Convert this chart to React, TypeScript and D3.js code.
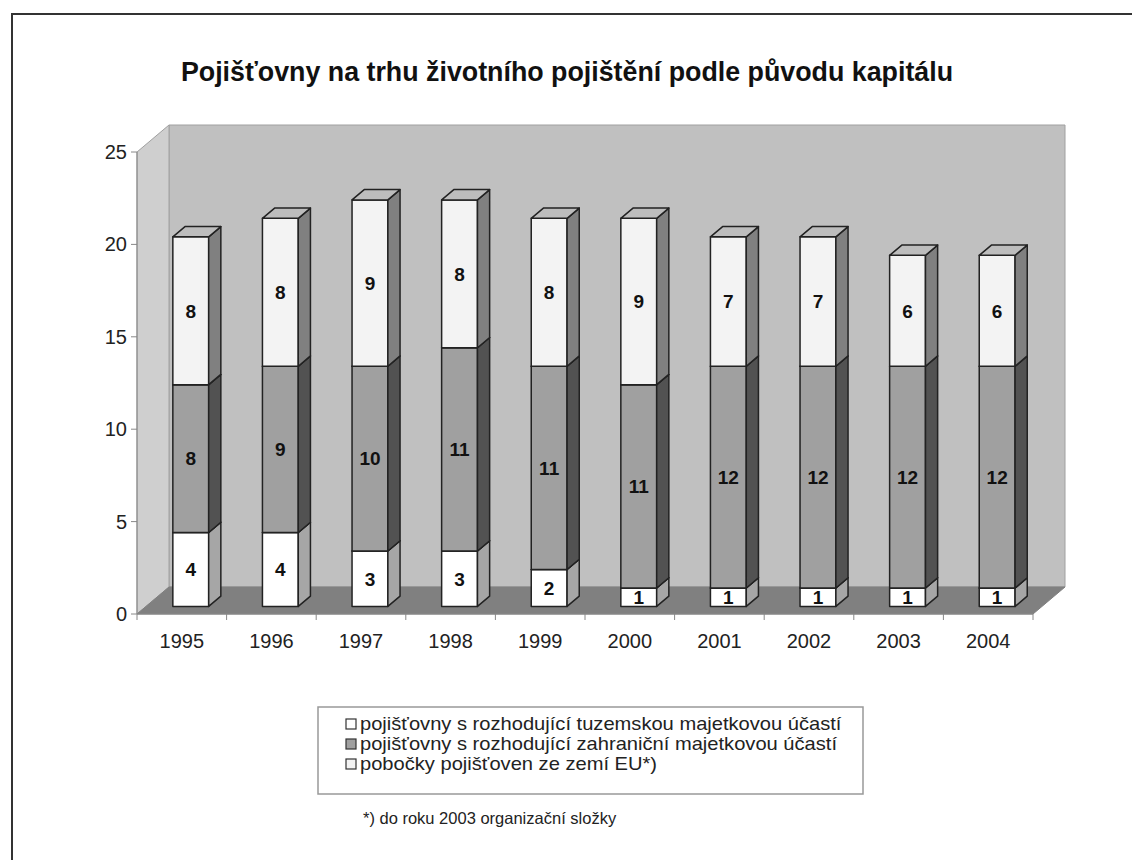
import React from 'react'
import * as d3 from 'd3'

const years = ['1995', '1996', '1997', '1998', '1999', '2000', '2001', '2002', '2003', '2004']
const domestic = [4, 4, 3, 3, 2, 1, 1, 1, 1, 1]
const foreign = [8, 9, 10, 11, 11, 11, 12, 12, 12, 12]
const euBranches = [8, 8, 9, 8, 8, 9, 7, 7, 6, 6]
const yTicks = [0, 5, 10, 15, 20, 25]
const seriesNames = [
  'pojišťovny s rozhodující tuzemskou majetkovou účastí',
  'pojišťovny s rozhodující zahraniční majetkovou účastí',
  'pobočky pojišťoven ze zemí EU*)',
]

const WIDTH = 1132
const HEIGHT = 860
const FONT = 'Arial, "Liberation Sans", sans-serif'

// plot box (front plane) and depth of the 3d floor
const left = 137
const right = 1033
const bottom = 614
const top = 152
const DX = 32
const DY = 27
// bar sits between these depth fractions
const z0 = 0.28
const z1 = 0.66

// front, side, top colours per series
const styles = [
  { front: '#ffffff', side: '#a6a6a6', cap: '#d2d2d2' },
  { front: '#a0a0a0', side: '#525252', cap: '#7a7a7a' },
  { front: '#f3f3f3', side: '#808080', cap: '#bdbdbd' },
]

const App = () => {
  const xScale = d3.scaleBand().domain(years).range([left, right]).padding(0)
  const yScale = d3.scaleLinear().domain([0, 25]).range([bottom, top])
  const band = xScale.bandwidth()
  const barW = band / 2.5

  const P = (x: number, v: number, z: number) => [x + z * DX, yScale(v) - z * DY]
  const poly = (pts: number[][]) => pts.map(p => p.join(',')).join(' ')

  const stacks = d3.stack<any>().keys(['a', 'b', 'c'])(
    years.map((y, i) => ({ year: y, a: domestic[i], b: foreign[i], c: euBranches[i] }))
  )

  return (
    <svg width={WIDTH} height={HEIGHT} style={{ display: 'block', position: 'absolute', left: 0, top: 0 }}>
      <rect x={0} y={0} width={WIDTH} height={HEIGHT} fill="#fff" />
      <rect x={12} y={14} width={WIDTH + 50} height={HEIGHT + 50} fill="none" stroke="#333" strokeWidth={2} />

      <text x={567} y={81} textAnchor="middle" fontFamily={FONT} fontWeight="bold" fontSize={26.8} fill="#111">
        Pojišťovny na trhu životního pojištění podle původu kapitálu
      </text>

      {/* walls */}
      <polygon points={poly([P(left, 0, 1), P(left, 25, 1), P(right, 25, 1), P(right, 0, 1)])} fill="#c0c0c0" stroke="#a0a0a0" />
      <polygon points={poly([P(left, 0, 0), P(left, 25, 0), P(left, 25, 1), P(left, 0, 1)])} fill="#cfcfcf" stroke="#a0a0a0" />
      <polygon points={poly([P(left, 0, 0), P(right, 0, 0), P(right, 0, 1), P(left, 0, 1)])} fill="#808080" stroke="#808080" />

      {/* y axis */}
      <line x1={left} y1={yScale(0)} x2={left} y2={yScale(25)} stroke="#888" />
      {yTicks.map(t => (
        <g key={t}>
          <line x1={left - 6} x2={left} y1={yScale(t)} y2={yScale(t)} stroke="#888" />
          <text x={left - 10} y={yScale(t)} dy="0.35em" textAnchor="end" fontFamily={FONT} fontSize={20} fill="#222">
            {t}
          </text>
        </g>
      ))}

      {/* x axis */}
      <line x1={left} y1={bottom} x2={right} y2={bottom} stroke="#888" />
      {years.map(y => (
        <g key={y}>
          <line x1={xScale(y)!} x2={xScale(y)!} y1={bottom} y2={bottom + 6} stroke="#888" />
          <text x={xScale(y)! + band / 2} y={bottom + 34} textAnchor="middle" fontFamily={FONT} fontSize={20} fill="#222">
            {y}
          </text>
        </g>
      ))}
      <line x1={right} x2={right} y1={bottom} y2={bottom + 6} stroke="#888" />

      {/* bars */}
      {years.map((y, i) => {
        const x0 = xScale(y)! + band / 2 - barW / 2
        const x1 = x0 + barW
        return (
          <g key={y}>
            {stacks.map((s, k) => {
              const [v0, v1] = s[i]
              const st = styles[k]
              return (
                <g key={k} stroke="#222" strokeWidth={1.5} strokeLinejoin="round">
                  <polygon points={poly([P(x0, v0, z0), P(x1, v0, z0), P(x1, v1, z0), P(x0, v1, z0)])} fill={st.front} />
                  <polygon points={poly([P(x1, v0, z0), P(x1, v0, z1), P(x1, v1, z1), P(x1, v1, z0)])} fill={st.side} />
                  <polygon points={poly([P(x0, v1, z0), P(x1, v1, z0), P(x1, v1, z1), P(x0, v1, z1)])} fill={st.cap} />
                </g>
              )
            })}
            {stacks.map((s, k) => {
              const [v0, v1] = s[i]
              const [cx, cy] = P((x0 + x1) / 2, (v0 + v1) / 2, z0)
              return (
                <text key={k} x={cx} y={cy} dy="0.36em" textAnchor="middle" fontFamily={FONT} fontWeight="bold" fontSize={19} fill="#111">
                  {v1 - v0}
                </text>
              )
            })}
          </g>
        )
      })}

      {/* legend */}
      <rect x={318} y={707} width={545} height={87} fill="none" stroke="#999" strokeWidth={1.5} />
      {seriesNames.map((name, k) => {
        const cy = 724 + k * 20
        return (
          <g key={name}>
            <rect x={346} y={cy - 5} width={10} height={10} fill={styles[k].front} stroke="#333" strokeWidth={1.2} />
            <text x={0} y={0} dy="0.36em" transform={`translate(360,${cy}) scale(1.15,1)`} fontFamily={FONT} fontSize={17.5} fill="#222">
              {name}
            </text>
          </g>
        )
      })}

      <text x={363} y={818} dy="0.36em" fontFamily={FONT} fontSize={16.5} fill="#222">
        *) do roku 2003 organizační složky
      </text>
    </svg>
  )
}

export default App
